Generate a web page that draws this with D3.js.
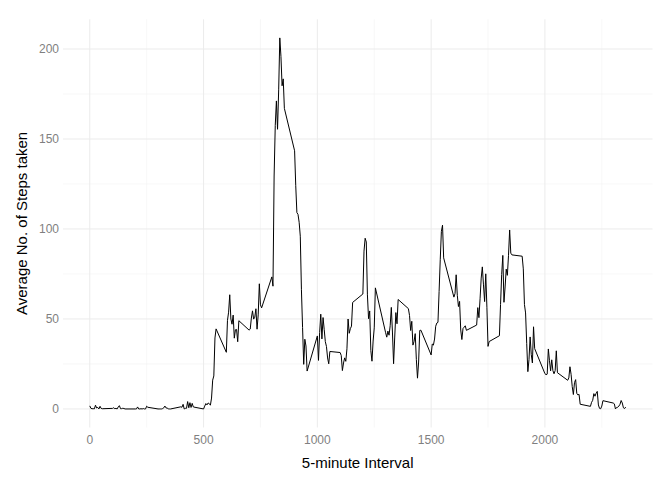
<!DOCTYPE html>
<html><head><meta charset="utf-8">
<script src="https://cdn.jsdelivr.net/npm/d3@7"></script>
<style>body{margin:0;background:#fff}text{font-family:"Liberation Sans",Arial,sans-serif}</style>
</head><body><svg id="c" width="672" height="480"></svg>
<script>
const steps=[1.717,0.339,0.132,0.151,0.075,2.09,0.528,0.868,0,1.47,0.30,0.13,0.32,0.68,0.15,0.34,0,1.11,1.83,0.17,0.17,0.38,0.26,0,0,0,1.13,0,0,0.13,0,0.23,0,0,1.55,0.94,0,0,0,0,0.21,0.62,1.62,0.58,0.49,0.075,0,0,1.19,0.94,2.57,0,0.34,0.36,4.11,0.66,3.49,0.83,3.11,1.11,0,1.57,3.0,2.25,3.32,2.96,2.09,6.06,16.02,18.34,39.45,44.49,31.49,49.26,53.77,63.45,49.96,47.08,52.15,39.34,44.02,44.17,37.36,49.04,43.81,44.38,50.51,54.51,49.92,50.98,55.68,44.32,52.26,69.55,57.85,56.15,73.38,68.21,129.43,157.53,171.15,155.40,177.30,206.17,195.92,179.57,183.40,167.02,143.45,124.04,109.11,108.11,103.72,95.97,66.21,45.23,24.79,38.75,34.98,21.06,40.57,26.98,42.42,52.66,38.92,50.79,44.28,37.42,34.70,28.34,25.09,31.94,31.36,29.68,21.32,25.55,28.38,26.47,33.43,49.98,42.04,44.60,46.04,59.19,63.87,87.70,94.85,92.77,63.40,50.17,54.47,32.42,26.53,37.74,45.06,67.28,42.34,39.89,43.26,40.98,46.25,56.43,42.75,25.13,39.96,53.55,47.32,60.81,55.75,51.96,43.58,48.70,35.47,37.55,41.85,27.51,17.11,26.08,43.62,43.77,30.02,36.08,35.49,38.85,45.96,47.75,48.13,65.32,82.91,98.66,102.11,83.96,62.13,64.13,74.55,63.17,56.91,59.77,43.87,38.57,44.66,45.45,46.21,43.68,46.62,56.30,50.72,61.23,72.72,78.94,68.94,59.66,75.09,56.51,34.77,37.45,40.68,58.02,74.70,85.32,59.26,67.77,77.70,74.25,85.34,99.45,86.58,85.60,84.87,77.83,58.04,53.36,36.32,20.72,27.40,40.02,30.21,25.55,45.66,33.53,19.62,19.02,19.34,33.34,26.81,21.17,27.30,21.34,19.55,21.32,32.30,20.15,15.94,17.23,23.45,19.25,12.45,8.02,14.66,16.30,8.68,7.79,8.13,2.62,1.45,3.68,4.81,8.51,7.08,8.70,9.75,2.21,0.32,0.11,1.60,4.60,3.30,2.85,0,0.83,0.96,1.58,2.60,4.70,3.30,0.64,0.23,1.08];
const intervals=[];for(let h=0;h<24;h++)for(let m=0;m<60;m+=5)intervals.push(h*100+m);
const xTicks=[0,500,1000,1500,2000], yTicks=[0,50,100,150,200];
const svg=d3.select("#c");
const x=d3.scaleLinear().domain([-117.75,2472.75]).range([63,652.5]);
const y=d3.scaleLinear().domain([-10.3,216.5]).range([427.5,19.3]);
const g=svg.append("g");
const gx=[250,750,1250,1750,2250],gy=[25,75,125,175];
g.selectAll(".mx").data(gx).join("line").attr("x1",d=>x(d)).attr("x2",d=>x(d)).attr("y1",19.3).attr("y2",427.5).attr("stroke","#f2f2f2").attr("stroke-width",0.6);
g.selectAll(".my").data(gy).join("line").attr("y1",d=>y(d)).attr("y2",d=>y(d)).attr("x1",63).attr("x2",652.5).attr("stroke","#f2f2f2").attr("stroke-width",0.6);
g.selectAll(".Mx").data(xTicks).join("line").attr("x1",d=>x(d)).attr("x2",d=>x(d)).attr("y1",19.3).attr("y2",427.5).attr("stroke","#ebebeb").attr("stroke-width",1);
g.selectAll(".My").data(yTicks).join("line").attr("y1",d=>y(d)).attr("y2",d=>y(d)).attr("x1",63).attr("x2",652.5).attr("stroke","#ebebeb").attr("stroke-width",1);
svg.append("path").datum(intervals.map((d,i)=>[d,steps[i]])).attr("fill","none").attr("stroke","#000").attr("stroke-width",1)
 .attr("d",d3.line().x(d=>x(d[0])).y(d=>y(d[1])));
svg.selectAll(".xt").data(xTicks).join("text").attr("x",d=>x(d)).attr("y",444).attr("text-anchor","middle").attr("font-size",12).attr("fill","#7f7f7f").text(d=>d);
svg.selectAll(".yt").data(yTicks).join("text").attr("x",59).attr("y",d=>y(d)+4).attr("text-anchor","end").attr("font-size",12).attr("fill","#7f7f7f").text(d=>d);
svg.append("text").attr("x",357.7).attr("y",468).attr("text-anchor","middle").attr("font-size",15).text("5-minute Interval");
svg.append("text").attr("transform","translate(27,223.4) rotate(-90)").attr("text-anchor","middle").attr("font-size",15).text("Average No. of Steps taken");
</script></body></html>
